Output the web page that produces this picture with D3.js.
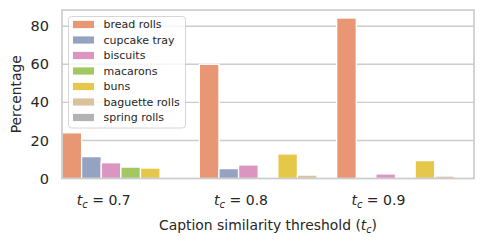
<!DOCTYPE html>
<html>
<head>
<meta charset="utf-8">
<script src="https://cdn.jsdelivr.net/npm/d3@7"></script>
<style>
  body { margin: 0; background: #fff; }
  svg { display: block; font-family: "DejaVu Sans", sans-serif; }
</style>
</head>
<body>
<svg width="484" height="244"></svg>
<script>
var thresholds = ["0.7", "0.8", "0.9"];
var categories = ["bread rolls", "cupcake tray", "biscuits", "macarons", "buns", "baguette rolls", "spring rolls"];
// one array per category, values for t_c = 0.7, 0.8, 0.9
var breadRolls    = [24.0, 60.0, 84.3];
var cupcakeTray   = [11.5, 5.2, 0];
var biscuits      = [8.3, 7.1, 2.4];
var macarons      = [6.0, 0, 0];
var buns          = [5.5, 12.9, 9.4];
var baguetteRolls = [0, 1.8, 1.3];
var springRolls   = [0, 0, 0];
var yTicks = [0, 20, 40, 60, 80];

var series = [breadRolls, cupcakeTray, biscuits, macarons, buns, baguetteRolls, springRolls];
// Set2 (shifted by one), desaturated like seaborn
var colors = ["#e99675", "#95a3c3", "#db95c0", "#a2c864", "#e5c849", "#dbc29e", "#b3b3b3"];

var svg = d3.select("svg"),
    margin = {left: 62, right: 10, top: 10, bottom: 65.5},
    width = +svg.attr("width"),
    height = +svg.attr("height"),
    text = "#262626",
    grid = "#cccccc";

var x0 = d3.scaleBand()
    .domain(thresholds)
    .range([margin.left, width - margin.right])
    .paddingInner(0).paddingOuter(0);

var x1 = d3.scaleBand()
    .domain(categories)
    .range([0, x0.bandwidth()])
    .padding(0);

var ymax = d3.max(series, function(s) { return d3.max(s); }) * 1.05;
var y = d3.scaleLinear()
    .domain([0, ymax])
    .range([height - margin.bottom, margin.top]);

// grid
svg.append("g")
  .selectAll("line")
  .data(yTicks.slice(1))
  .enter().append("line")
    .attr("x1", margin.left).attr("x2", width - margin.right)
    .attr("y1", function(d) { return y(d); })
    .attr("y2", function(d) { return y(d); })
    .attr("stroke", grid)
    .attr("stroke-width", 1.4);

// bars
var rows = [];
categories.forEach(function(c, i) {
  thresholds.forEach(function(t, j) {
    rows.push({cat: c, t: t, v: series[i][j], color: colors[i]});
  });
});

svg.append("g")
  .selectAll("rect")
  .data(rows.filter(function(d) { return d.v > 0; }))
  .enter().append("rect")
    .attr("x", function(d) { return x0(d.t) + x1(d.cat); })
    .attr("width", x1.bandwidth())
    .attr("y", function(d) { return y(d.v); })
    .attr("height", function(d) { return y(0) - y(d.v); })
    .attr("fill", function(d) { return d.color; })
    .attr("stroke", "#fff")
    .attr("stroke-width", 1.3);

// spines
svg.append("rect")
    .attr("x", margin.left).attr("y", margin.top)
    .attr("width", width - margin.left - margin.right)
    .attr("height", y(0) - margin.top)
    .attr("fill", "none")
    .attr("stroke", grid)
    .attr("stroke-width", 1.7);

// y axis
var yAxis = svg.append("g")
    .attr("transform", "translate(" + margin.left + ",0)")
    .call(d3.axisLeft(y).tickValues(yTicks).tickSize(0).tickPadding(13));
yAxis.select(".domain").remove();
yAxis.selectAll("text")
    .attr("fill", text)
    .attr("font-size", 14.5)
    .attr("font-family", "DejaVu Sans");

// x tick labels, right-aligned at group centers
var xl = svg.append("g").selectAll("text")
  .data(thresholds)
  .enter().append("text")
    .attr("x", function(d) { return x0(d) + x0.bandwidth() / 2; })
    .attr("y", 205)
    .attr("text-anchor", "end")
    .attr("font-size", 14)
    .attr("fill", text);
xl.append("tspan").attr("font-style", "italic").text("t");
xl.append("tspan").attr("font-style", "italic").attr("font-size", 10).attr("dy", 3).text("c");
xl.append("tspan").attr("dy", -3).text(function(d) { return " = " + d; });

// axis labels
var xlab = svg.append("text")
    .attr("x", (margin.left + width - margin.right) / 2)
    .attr("y", 230)
    .attr("text-anchor", "middle")
    .attr("font-size", 13.9)
    .attr("fill", text);
xlab.append("tspan").text("Caption similarity threshold (");
xlab.append("tspan").attr("font-style", "italic").text("t");
xlab.append("tspan").attr("font-style", "italic").attr("font-size", 9.7).attr("dy", 2.5).text("c");
xlab.append("tspan").attr("dy", -2.5).text(")");

svg.append("text")
    .attr("transform", "translate(21," + ((margin.top + y(0)) / 2) + ") rotate(-90)")
    .attr("text-anchor", "middle")
    .attr("font-size", 13.9)
    .attr("fill", text)
    .text("Percentage");

// legend
var lg = svg.append("g").attr("transform", "translate(68.5,16.5)");
lg.append("rect")
    .attr("width", 117).attr("height", 111.5)
    .attr("rx", 3)
    .attr("fill", "#fff").attr("fill-opacity", 0.8)
    .attr("stroke", "#d6d6d6");
var item = lg.selectAll("g.item")
  .data(categories)
  .enter().append("g")
    .attr("class", "item")
    .attr("transform", function(d, i) { return "translate(0," + (8 + i * 15.5) + ")"; });
item.append("rect")
    .attr("x", 4.5).attr("y", -3.6)
    .attr("width", 21).attr("height", 7.2)
    .attr("fill", function(d, i) { return colors[i]; });
item.append("text")
    .attr("x", 35)
    .attr("dy", "0.35em")
    .attr("font-size", 11)
    .attr("fill", text)
    .text(function(d) { return d; });
</script>
</body>
</html>
